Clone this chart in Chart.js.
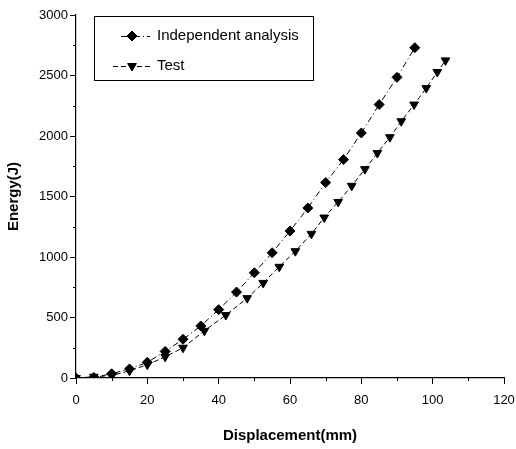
<!DOCTYPE html>
<html>
<head>
<meta charset="utf-8">
<script src="https://cdn.jsdelivr.net/npm/chart.js@4.4.1/dist/chart.umd.min.js"></script>
<style>
  html, body { margin: 0; padding: 0; background: #fff; }
  #wrap { width: 516px; height: 449px; }
</style>
</head>
<body>
<div id="wrap"><canvas id="chart" width="516" height="449"></canvas></div>
<script>
// values
const indepX = [0, 5, 10, 15, 20, 25, 30, 35, 40, 45, 50, 55, 60, 65, 70, 75, 80, 85, 90, 95];
const indepY = [0, 5, 35, 75, 130, 220, 320, 430, 565, 710, 870, 1035, 1215, 1405, 1615, 1805, 2025, 2260, 2485, 2730];
const testX = [0, 5, 10, 15, 20, 25, 30, 36, 42, 48, 52.5, 57, 61.5, 66, 69.6, 73.5, 77.3, 81, 84.5, 88, 91.2, 94.8, 98.2, 101.3, 103.6];
const testY = [0, 10, 20, 60, 110, 175, 250, 390, 520, 660, 786, 919, 1048, 1191, 1326, 1455, 1588, 1726, 1859, 1990, 2122, 2260, 2396, 2529, 2625];
const xTicks = [0, 20, 40, 60, 80, 100, 120];
const yTicks = [0, 500, 1000, 1500, 2000, 2500, 3000];
const seriesNames = ['Independent analysis', 'Test'];

const FONT = "'Liberation Sans', Arial, sans-serif";

const toPoints = (xs, ys) => xs.map((x, i) => ({ x: x, y: ys[i] }));

// minor ticks between the labelled ones
const minorTicks = {
  id: 'minorTicks',
  afterDraw(chart) {
    const ctx = chart.ctx;
    const xs = chart.scales.x, ys = chart.scales.y;
    ctx.save();
    ctx.strokeStyle = '#000';
    ctx.lineWidth = 1;
    ctx.beginPath();
    for (let i = 0; i < xTicks.length - 1; i++) {
      const px = Math.round(xs.getPixelForValue((xTicks[i] + xTicks[i + 1]) / 2)) + 0.5;
      ctx.moveTo(px, ys.bottom);
      ctx.lineTo(px, ys.bottom + 3);
    }
    for (let i = 0; i < yTicks.length - 1; i++) {
      const py = Math.round(ys.getPixelForValue((yTicks[i] + yTicks[i + 1]) / 2)) + 0.5;
      ctx.moveTo(xs.left, py);
      ctx.lineTo(xs.left - 3, py);
    }
    ctx.stroke();
    ctx.restore();
  }
};

// boxed legend with line + marker samples
const boxLegend = {
  id: 'boxLegend',
  afterDraw(chart) {
    const ctx = chart.ctx;
    ctx.save();
    ctx.strokeStyle = '#000';
    ctx.lineWidth = 1;
    ctx.strokeRect(94.5, 16.5, 219, 64);

    const rows = [
      { y: 36, x0: 121, dash: [6, 3, 1, 3], style: 'rectRot', rot: 0 },
      { y: 66, x0: 113, dash: [5, 3], style: 'triangle', rot: 180 }
    ];
    rows.forEach((r, i) => {
      ctx.setLineDash(r.dash);
      ctx.beginPath();
      ctx.moveTo(r.x0, r.y + 0.5);
      ctx.lineTo(150, r.y + 0.5);
      ctx.stroke();
      ctx.setLineDash([]);
      Chart.helpers.drawPoint(ctx, {
        pointStyle: r.style, radius: 5, rotation: r.rot, borderWidth: 1
      }, 132, r.y);
      ctx.fillStyle = '#000';
      ctx.fill();
      ctx.font = '15px ' + FONT;
      ctx.textBaseline = 'middle';
      ctx.textAlign = 'left';
      ctx.fillText(seriesNames[i], 157, r.y);
    });
    ctx.restore();
  }
};

const ctx = document.getElementById('chart').getContext('2d');

new Chart(ctx, {
  type: 'scatter',
  data: {
    datasets: [{
      label: seriesNames[0],
      data: toPoints(indepX, indepY),
      showLine: true,
      tension: 0,
      borderColor: '#000',
      borderWidth: 1,
      borderDash: [6, 3, 1, 3],
      pointStyle: 'rectRot',
      pointRadius: 5,
      pointBackgroundColor: '#000',
      pointBorderColor: '#000',
      pointBorderWidth: 1
    }, {
      label: seriesNames[1],
      data: toPoints(testX, testY),
      showLine: true,
      tension: 0,
      borderColor: '#000',
      borderWidth: 1,
      borderDash: [5, 3],
      pointStyle: 'triangle',
      pointRotation: 180,
      pointRadius: 5,
      pointBackgroundColor: '#000',
      pointBorderColor: '#000',
      pointBorderWidth: 1
    }]
  },
  options: {
    responsive: false,
    animation: false,
    layout: { padding: { left: 0, top: 15, right: 12, bottom: 0 } },
    scales: {
      x: {
        type: 'linear',
        min: 0,
        max: 120,
        afterBuildTicks(scale) { scale.ticks = xTicks.map(v => ({ value: v })); },
        afterFit(scale) {
          scale.height = 71;
          scale.paddingLeft = 0;
          scale.paddingRight = 0;
        },
        grid: { drawOnChartArea: false, tickLength: 6, color: '#000', tickColor: '#000' },
        border: { display: true, color: '#000', width: 1.2 },
        ticks: {
          color: '#000', padding: 9, maxRotation: 0,
          font: { family: FONT, size: 13 },
          callback: (v) => String(v)
        },
        title: {
          display: true,
          text: 'Displacement(mm)',
          color: '#000',
          font: { family: FONT, size: 15, weight: 'bold' },
          padding: { top: 8 }
        }
      },
      y: {
        type: 'linear',
        min: 0,
        max: 3000,
        afterBuildTicks(scale) { scale.ticks = yTicks.map(v => ({ value: v })); },
        afterFit(scale) {
          scale.width = 76;
          scale.paddingTop = 0;
          scale.paddingBottom = 0;
        },
        grid: { drawOnChartArea: false, tickLength: 6, color: '#000', tickColor: '#000' },
        border: { display: true, color: '#000', width: 1.2 },
        ticks: {
          color: '#000', padding: 2,
          font: { family: FONT, size: 13 },
          callback: (v) => String(v)
        },
        title: {
          display: true,
          text: 'Energy(J)',
          color: '#000',
          font: { family: FONT, size: 15, weight: 'bold' },
          padding: { top: 5, bottom: 0 }
        }
      }
    },
    plugins: {
      legend: { display: false },
      tooltip: { enabled: false }
    }
  },
  plugins: [minorTicks, boxLegend]
});
</script>
</body>
</html>
